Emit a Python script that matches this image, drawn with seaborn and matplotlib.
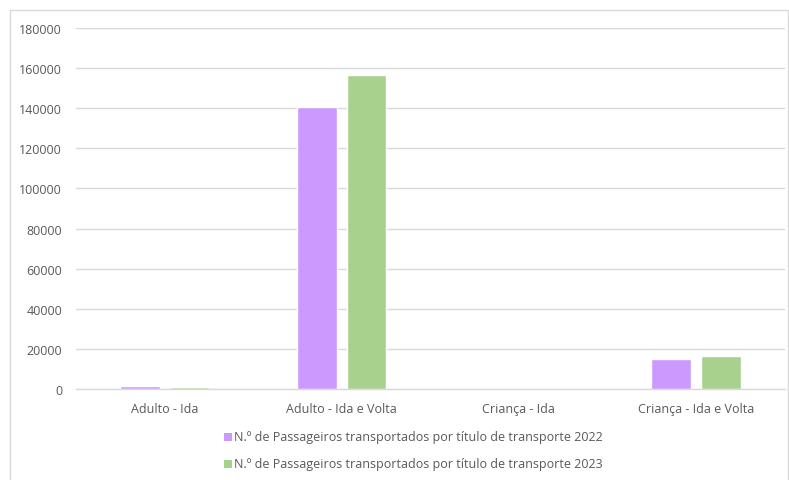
import matplotlib
matplotlib.use("Agg")
import matplotlib.pyplot as plt
from matplotlib.patches import Rectangle
import seaborn as sns
import pandas as pd

categories = ["Adulto - Ida", "Adulto - Ida e Volta", "Criança - Ida", "Criança - Ida e Volta"]
values_2022 = [1350, 140800, 40, 15000]
values_2023 = [850, 156500, 30, 16600]
series_names = [
    "N.º de Passageiros transportados por título de transporte 2022",
    "N.º de Passageiros transportados por título de transporte 2023",
]
y_ticks = [0, 20000, 40000, 60000, 80000, 100000, 120000, 140000, 160000, 180000]

df = pd.DataFrame({
    "categoria": categories * 2,
    "valor": values_2022 + values_2023,
    "serie": [series_names[0]] * 4 + [series_names[1]] * 4,
})

sns.set_theme(style="white")
plt.rcParams["font.family"] = ["Open Sans", "DejaVu Sans"]

fig = plt.figure(figsize=(7.89, 4.81), dpi=100)
ax = fig.add_axes([0.0963, 0.189, 0.898, 0.7507])

palette = {series_names[0]: "#CC99FF", series_names[1]: "#A9D18E"}
sns.barplot(data=df, x="categoria", y="valor", hue="serie", order=categories,
            hue_order=series_names, palette=palette, width=0.56, gap=0.2,
            saturation=1, ax=ax, legend=False)

ax.set_ylim(0, 180000)
ax.set_yticks(y_ticks)
ax.set_yticklabels([str(t) for t in y_ticks])
ax.set_xlim(-0.5, 3.5)
ax.yaxis.grid(True, color="#D9D9D9", linewidth=1)
ax.set_axisbelow(True)
for s in ["left", "right", "top"]:
    ax.spines[s].set_visible(False)
ax.spines["bottom"].set_color("#D9D9D9")
ax.spines["bottom"].set_linewidth(1)
ax.set_xlabel("")
ax.set_ylabel("")
ax.tick_params(axis="both", length=0, labelsize=9, labelcolor="#595959")
ax.tick_params(axis="y", pad=10)
ax.tick_params(axis="x", pad=9)

# Legend entries stacked below the plot
for i, (name, col) in enumerate(zip(series_names, [palette[n] for n in series_names])):
    y = 1 - (438 + i * 27) / 481
    fig.patches.append(Rectangle((224 / 789, y - 4 / 481), 8 / 789, 8 / 481,
                                 transform=fig.transFigure, facecolor=col,
                                 edgecolor="none"))
    fig.text(234 / 789, y, name, ha="left", va="center", fontsize=9, color="#595959")

# Chart area border
fig.patches.append(Rectangle((10 / 789, -0.05), 777.5 / 789, 1.05 - 11 / 481,
                             transform=fig.transFigure, facecolor="none",
                             edgecolor="#D9D9D9", linewidth=1))

fig.savefig("out.png", dpi=100)
